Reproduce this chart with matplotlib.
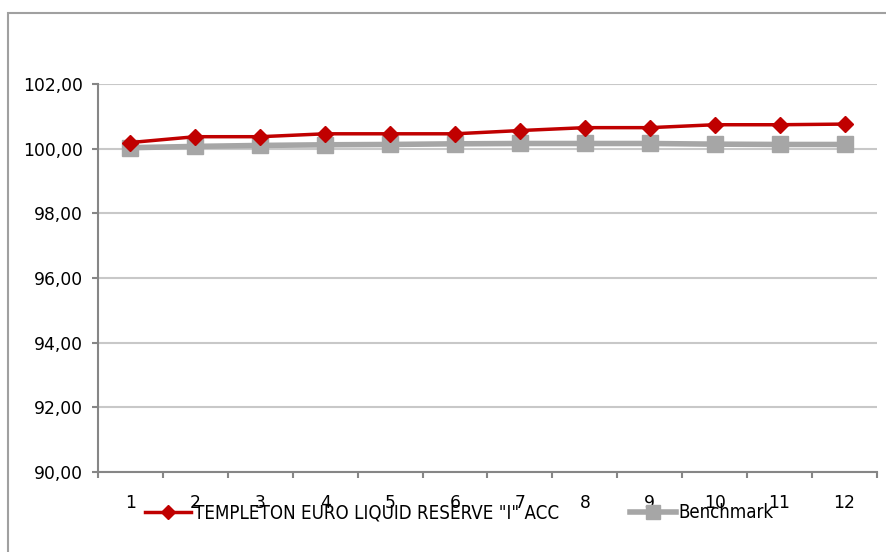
import matplotlib.pyplot as plt
from matplotlib.patches import Rectangle
from matplotlib.lines import Line2D
import numpy as np

# values
periods = [1, 2, 3, 4, 5, 6, 7, 8, 9, 10, 11, 12]
fund = [100.19, 100.37, 100.37, 100.46, 100.46, 100.46, 100.56, 100.65, 100.65, 100.74, 100.74, 100.76]
bench = [100.03, 100.07, 100.10, 100.12, 100.13, 100.15, 100.16, 100.16, 100.16, 100.14, 100.13, 100.13]
fund_name = 'TEMPLETON EURO LIQUID RESERVE "I" ACC'
bench_name = "Benchmark"
y_ticks = [90, 92, 94, 96, 98, 100, 102]

red = "#C00000"
grey = "#A6A6A6"
axis_col = "#868686"

plt.rcParams["font.family"] = ["DejaVu Sans"]

fig = plt.figure(figsize=(8.87, 5.52), dpi=100)
ax = fig.add_axes([98 / 887, 80 / 552, 779 / 887, 388 / 552])

x = np.array(periods)
ax.plot(x, bench, color=grey, lw=4, marker="s", ms=11, mfc=grey, mec=grey, zorder=3)
ax.plot(x, fund, color=red, lw=2.5, marker="D", ms=8.5, mfc=red, mec=red, zorder=4)

ax.set_xlim(0.5, 12.5)
ax.set_ylim(90, 102)
ax.set_yticks(y_ticks)
ax.set_yticklabels([f"{v:.2f}".replace(".", ",") for v in y_ticks])
ax.yaxis.grid(True, color="#C8C8C8", lw=1.5)
ax.set_axisbelow(True)

# boundaries between categories as major ticks, labels on minor ticks
ax.set_xticks(np.arange(0.5, 13, 1))
ax.set_xticklabels([])
ax.set_xticks(x, minor=True)
ax.set_xticklabels([str(p) for p in periods], minor=True)
ax.tick_params(axis="x", which="major", direction="out", length=4, width=1.5, color=axis_col)
ax.tick_params(axis="x", which="minor", length=0, pad=16, labelsize=12.3)
ax.tick_params(axis="y", direction="out", length=4, width=1.5, color=axis_col, pad=7, labelsize=12.3)

for s in ["top", "right"]:
    ax.spines[s].set_visible(False)
for s in ["left", "bottom"]:
    ax.spines[s].set_color(axis_col)
    ax.spines[s].set_linewidth(1.5)

# outer chart border
fig.patches.append(Rectangle((8.5 / 887, -0.1), 1.2, (552 - 13) / 552 + 0.1,
                             transform=fig.transFigure, fill=False,
                             edgecolor="#A0A0A0", lw=1.5, clip_on=False))

h1 = Line2D([], [], color=red, lw=2.5, marker="D", ms=7)
h2 = Line2D([], [], color=grey, lw=4, marker="s", ms=10)
leg_font = {"size": 13.4, "stretch": "condensed"}
leg1 = fig.legend([h1], [fund_name], loc="center left", bbox_to_anchor=(145 / 887, 39 / 552),
                  frameon=False, borderpad=0, borderaxespad=0, handlelength=2.45,
                  handletextpad=0.17, prop=leg_font)
leg2 = fig.legend([h2], [bench_name], loc="center left", bbox_to_anchor=(630 / 887, 39 / 552),
                  frameon=False, borderpad=0, borderaxespad=0, handlelength=2.45,
                  handletextpad=0.17, prop=leg_font)

fig.savefig("out.png", dpi=100)
